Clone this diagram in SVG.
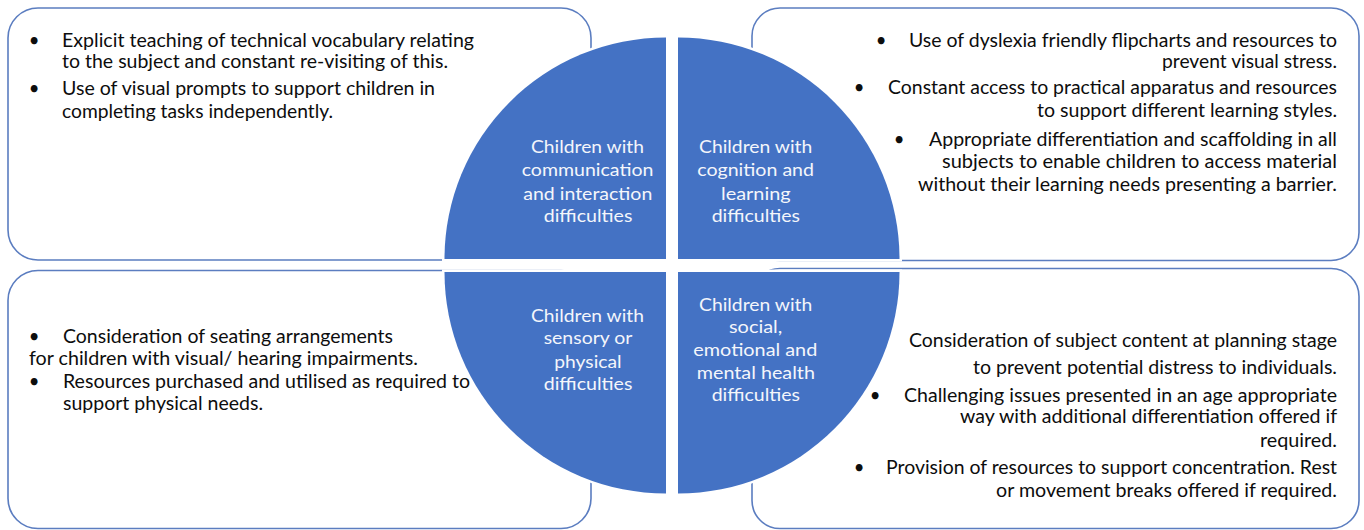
<svg xmlns="http://www.w3.org/2000/svg" width="1364" height="530" viewBox="0 0 1364 530">
<style>
.box{fill:#ffffff;stroke:#5b7dc0;stroke-width:1.6}
.q{fill:#4472c4;stroke:#ffffff;stroke-width:5;paint-order:stroke}
.t{font-family:Lato,"Open Sans","Liberation Sans",sans-serif;font-size:18.5px;fill:#0d0d0d}
.b{font-family:Lato,"Open Sans","Liberation Sans",sans-serif;font-size:18.5px;fill:#0d0d0d;text-anchor:middle}
.w{font-family:Lato,"Open Sans","Liberation Sans",sans-serif;font-size:18px;fill:#f4f6fb}
</style>
<rect width="1364" height="530" fill="#ffffff"/>
<g id="box-communication">
<rect class="box" x="8" y="8" width="583" height="252" rx="30"/>
<text class="b" x="34" y="46.7">•</text>
<text class="t" x="62" y="46.7" textLength="412" lengthAdjust="spacingAndGlyphs">Explicit teaching of technical vocabulary relating</text>
<text class="t" x="62" y="68.3" textLength="386" lengthAdjust="spacingAndGlyphs">to the subject and constant re-visiting of this.</text>
<text class="b" x="34" y="95">•</text>
<text class="t" x="62" y="95" textLength="373" lengthAdjust="spacingAndGlyphs">Use of visual prompts to support children in</text>
<text class="t" x="62" y="118.3" textLength="271" lengthAdjust="spacingAndGlyphs">completing tasks independently.</text>
</g>
<g id="box-cognition">
<rect class="box" x="752" y="8" width="607" height="252.5" rx="28"/>
<text class="b" x="881" y="46.7">•</text>
<text class="t" x="909" y="46.7" textLength="428" lengthAdjust="spacingAndGlyphs">Use of dyslexia friendly flipcharts and resources to</text>
<text class="t" x="1162" y="68.3" textLength="175" lengthAdjust="spacingAndGlyphs">prevent visual stress.</text>
<text class="b" x="859" y="94">•</text>
<text class="t" x="888" y="94" textLength="449" lengthAdjust="spacingAndGlyphs">Constant access to practical apparatus and resources</text>
<text class="t" x="1037" y="116.7" textLength="300" lengthAdjust="spacingAndGlyphs">to support different learning styles.</text>
<text class="b" x="899" y="146">•</text>
<text class="t" x="929" y="146" textLength="408" lengthAdjust="spacingAndGlyphs">Appropriate differentiation and scaffolding in all</text>
<text class="t" x="942" y="168" textLength="395" lengthAdjust="spacingAndGlyphs">subjects to enable children to access material</text>
<text class="t" x="918" y="190.7" textLength="419" lengthAdjust="spacingAndGlyphs">without their learning needs presenting a barrier.</text>
</g>
<g id="box-sensory">
<rect class="box" x="8" y="270.5" width="583" height="258" rx="30"/>
<text class="b" x="34" y="343.3">•</text>
<text class="t" x="63" y="343.3" textLength="330" lengthAdjust="spacingAndGlyphs">Consideration of seating arrangements</text>
<text class="t" x="29" y="365" textLength="389" lengthAdjust="spacingAndGlyphs">for children with visual/ hearing impairments.</text>
<text class="b" x="34" y="388.3">•</text>
<text class="t" x="63" y="388.3" textLength="407" lengthAdjust="spacingAndGlyphs">Resources purchased and utilised as required to</text>
<text class="t" x="63" y="410" textLength="200" lengthAdjust="spacingAndGlyphs">support physical needs.</text>
</g>
<g id="box-social">
<rect class="box" x="752" y="268.5" width="607" height="260" rx="28"/>
<text class="t" x="909" y="347.3" textLength="428" lengthAdjust="spacingAndGlyphs">Consideration of subject content at planning stage</text>
<text class="t" x="973" y="374.3" textLength="364" lengthAdjust="spacingAndGlyphs">to prevent potential distress to individuals.</text>
<text class="b" x="875" y="401.7">•</text>
<text class="t" x="904" y="401.7" textLength="433" lengthAdjust="spacingAndGlyphs">Challenging issues presented in an age appropriate</text>
<text class="t" x="960" y="423.3" textLength="377" lengthAdjust="spacingAndGlyphs">way with additional differentiation offered if</text>
<text class="t" x="1260" y="446.7" textLength="77" lengthAdjust="spacingAndGlyphs">required.</text>
<text class="b" x="859" y="474">•</text>
<text class="t" x="886" y="474" textLength="451" lengthAdjust="spacingAndGlyphs">Provision of resources to support concentration. Rest</text>
<text class="t" x="996" y="496.7" textLength="341" lengthAdjust="spacingAndGlyphs">or movement breaks offered if required.</text>
</g>
<g id="quadrant-communication">
<path class="q" d="M666 259 L444.5 259 A221.5 221.5 0 0 1 666 37.5 Z"/>
<text class="w" x="531" y="153.3" textLength="113" lengthAdjust="spacingAndGlyphs">Children with</text>
<text class="w" x="521.7" y="176" textLength="131.7" lengthAdjust="spacingAndGlyphs">communication</text>
<text class="w" x="523.3" y="199.7" textLength="129" lengthAdjust="spacingAndGlyphs">and interaction</text>
<text class="w" x="543.7" y="222.3" textLength="88.7" lengthAdjust="spacingAndGlyphs">difficulties</text>
</g>
<g id="quadrant-cognition">
<path class="q" d="M678 259 L678 37.5 A221.5 221.5 0 0 1 899.5 259 Z"/>
<text class="w" x="699" y="153.3" textLength="113.3" lengthAdjust="spacingAndGlyphs">Children with</text>
<text class="w" x="697.3" y="176" textLength="116.7" lengthAdjust="spacingAndGlyphs">cognition and</text>
<text class="w" x="721" y="199.7" textLength="69.7" lengthAdjust="spacingAndGlyphs">learning</text>
<text class="w" x="711.7" y="222.3" textLength="88.3" lengthAdjust="spacingAndGlyphs">difficulties</text>
</g>
<g id="quadrant-sensory">
<path class="q" d="M666 272 L666 493.5 A221.5 221.5 0 0 1 444.5 272 Z"/>
<text class="w" x="531" y="321.7" textLength="113" lengthAdjust="spacingAndGlyphs">Children with</text>
<text class="w" x="543.7" y="344" textLength="88.7" lengthAdjust="spacingAndGlyphs">sensory or</text>
<text class="w" x="554.3" y="367.7" textLength="67.3" lengthAdjust="spacingAndGlyphs">physical</text>
<text class="w" x="543.7" y="390" textLength="88.7" lengthAdjust="spacingAndGlyphs">difficulties</text>
</g>
<g id="quadrant-social">
<path class="q" d="M678 272 L899.5 272 A221.5 221.5 0 0 1 678 493.5 Z"/>
<text class="w" x="699" y="310.7" textLength="113.3" lengthAdjust="spacingAndGlyphs">Children with</text>
<text class="w" x="729" y="333.3" textLength="53.3" lengthAdjust="spacingAndGlyphs">social,</text>
<text class="w" x="693.3" y="356" textLength="124" lengthAdjust="spacingAndGlyphs">emotional and</text>
<text class="w" x="696.7" y="378.7" textLength="118.3" lengthAdjust="spacingAndGlyphs">mental health</text>
<text class="w" x="711.7" y="401" textLength="88.3" lengthAdjust="spacingAndGlyphs">difficulties</text>
</g>
<g id="connectors"/>
</svg>
